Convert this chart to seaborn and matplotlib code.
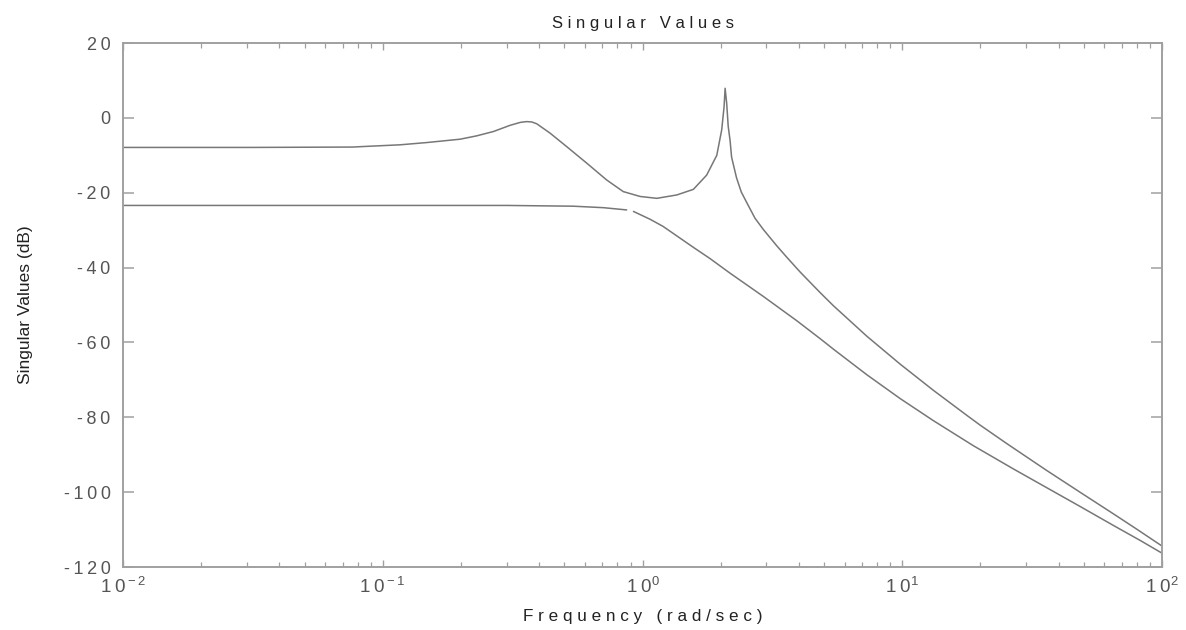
import numpy as np
import pandas as pd
import matplotlib
matplotlib.use("Agg")
import matplotlib.pyplot as plt
import matplotlib.ticker as mticker
import seaborn as sns

# ---- data ----
freq_upper = [0.01, 0.0316, 0.0769, 0.0818, 0.1167, 0.1476, 0.1986, 0.2302, 0.2667, 0.309,
              0.339, 0.358, 0.375, 0.392, 0.441, 0.511, 0.610, 0.728, 0.843, 0.979,
              1.135, 1.355, 1.570, 1.766, 1.932, 2.018, 2.061, 2.080, 2.109, 2.138,
              2.173, 2.203, 2.301, 2.40, 2.518, 2.71, 2.917, 3.289, 3.589, 4.046,
              4.831, 5.433, 7.295, 9.817, 13.18, 17.74, 19.95, 25.23, 35.97, 48.31,
              65.01, 79.98, 100.0]
sv_upper = [-7.9, -7.9, -7.8, -7.7, -7.2, -6.6, -5.7, -4.8, -3.65, -2.0,
            -1.2, -1.0, -1.1, -1.6, -4.1, -7.7, -12.1, -16.6, -19.7, -21.0,
            -21.5, -20.6, -19.1, -15.3, -10.0, -3.2, 3.0, 7.9, 3.9, -2.3,
            -6.0, -10.5, -16.0, -19.8, -22.6, -26.8, -29.8, -34.2, -37.2, -41.2,
            -46.7, -50.2, -58.3, -65.8, -72.8, -79.5, -82.1, -87.0, -94.2, -100.0,
            -105.8, -109.9, -114.4]

# lower curve is drawn as two pieces (small break near 0.9 rad/s)
freq_lower_a = [0.01, 0.1, 0.3, 0.541, 0.708, 0.869]
sv_lower_a = [-23.4, -23.4, -23.4, -23.6, -24.0, -24.6]
freq_lower_b = [0.923, 1.07, 1.2, 1.570, 1.820, 2.173, 2.917, 3.926, 4.831, 5.433,
                7.295, 9.817, 13.18, 18.79, 26.79, 35.97, 48.31, 65.01, 82.41, 100.0]
sv_lower_b = [-25.0, -27.1, -29.0, -34.6, -37.6, -41.5, -47.7, -54.2, -59.0, -61.8,
              -68.6, -75.0, -80.9, -87.6, -93.8, -98.8, -103.8, -108.9, -112.9, -116.3]

y_ticks = [20, 0, -20, -40, -60, -80, -100, -120]
x_ticks = [0.01, 0.1, 1, 10, 100]
x_exponents = ["-2", "-1", "0", "1", "2"]

title_text = "Singular Values"
xlabel_text = "Frequency (rad/sec)"
ylabel_text = "Singular Values (dB)"

# ---- styling ----
sns.set_style("white")
plt.rcParams["font.family"] = ["Liberation Sans", "DejaVu Sans"]
plt.rcParams["mathtext.default"] = "regular"

df = pd.concat([
    pd.DataFrame({"freq": freq_upper, "sv": sv_upper, "series": "sv1", "seg": "u"}),
    pd.DataFrame({"freq": freq_lower_a, "sv": sv_lower_a, "series": "sv2", "seg": "la"}),
    pd.DataFrame({"freq": freq_lower_b, "sv": sv_lower_b, "series": "sv2", "seg": "lb"}),
], ignore_index=True)

fig = plt.figure(figsize=(11.86, 6.30), dpi=100)
ax = fig.add_axes([123 / 1186, 1 - 567 / 630, (1162 - 123) / 1186, (567 - 43) / 630])

sns.lineplot(data=df, x="freq", y="sv", hue="series", units="seg", estimator=None,
             palette={"sv1": "#777777", "sv2": "#777777"}, linewidth=1.1,
             legend=False, ax=ax, sort=True)

ax.set_xscale("log")
ax.set_xlim(0.01, 100)
ax.set_ylim(-120, 20)

spine_col = "#a0a0a0"
for s in ax.spines.values():
    s.set_visible(True)
    s.set_color(spine_col)
    s.set_linewidth(1.4)


def spaced(s, sep="\u2009"):
    return sep.join(list(s))


ax.yaxis.set_major_locator(mticker.FixedLocator(y_ticks))
ax.yaxis.set_major_formatter(mticker.FixedFormatter([spaced(str(v)) for v in y_ticks]))
ax.xaxis.set_major_locator(mticker.FixedLocator(x_ticks))
ax.xaxis.set_major_formatter(mticker.FixedFormatter(
    [r"$1\:0^{\,\!" + e + "}$" for e in x_exponents]))
ax.xaxis.set_minor_locator(mticker.LogLocator(base=10, subs=np.arange(2, 10)))
ax.xaxis.set_minor_formatter(mticker.NullFormatter())

ax.tick_params(axis="y", which="major", direction="in", length=8, width=1.1,
               color=spine_col, left=True, right=True, labelsize=13,
               labelcolor="#555555", pad=9)
ax.tick_params(axis="x", which="major", direction="in", length=5, width=1.0,
               color=spine_col, bottom=True, top=True, labelsize=13.5,
               labelcolor="#555555", pad=7)
ax.tick_params(axis="x", which="minor", direction="in", length=3.5, width=0.9,
               color=spine_col, bottom=True, top=True)

ax.set_title(" ".join(list(title_text)), fontsize=12, color="#222222", pad=11)
ax.set_xlabel(" ".join(list(xlabel_text)), fontsize=12.3, color="#222222", labelpad=9)
ax.set_ylabel(ylabel_text, fontsize=12.5, color="#222222", labelpad=22)

fig.savefig("out.png", dpi=100, facecolor="white")
